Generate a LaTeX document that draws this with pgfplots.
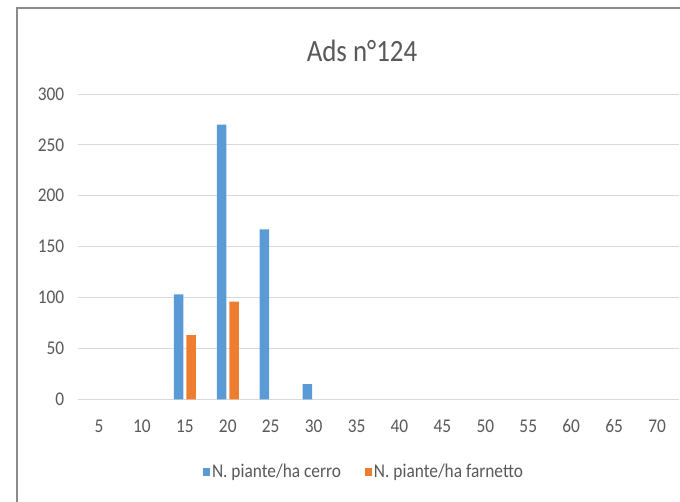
\documentclass[border=0pt]{standalone}
\usepackage{pgfplots}
\pgfplotsset{compat=1.18}
\usepackage{fontspec}
\setmainfont{Carlito}
\definecolor{cblue}{HTML}{5B9BD5}
\definecolor{corange}{HTML}{ED7D31}
\definecolor{tgray}{HTML}{595959}
\definecolor{ggray}{HTML}{D9D9D9}
\newcommand{\vs}[1]{\scalebox{1}[1.12]{#1}}
\begin{document}
\begin{tikzpicture}
\useasboundingbox (0bp,0bp) rectangle (680bp,502bp);
\fill[white] (0bp,0bp) rectangle (680bp,502bp);
\draw[color=black!45, line width=1.2bp] (17bp,0bp) -- (17bp,494bp) -- (680bp,494bp);
\node[text=tgray, font=\fontsize{27}{32}\selectfont] at (362bp,451bp) {\scalebox{1}[1.15]{Ads n°124}};
\begin{axis}[
  at={(77.5bp,102.7bp)}, anchor=south west,
  scale only axis, width=601bp, height=305.3bp,
  ybar=3bp, bar width=9.5bp,
  xmin=-0.5, xmax=13.5, ymin=0, ymax=300,
  ytick={0,50,...,300},
  yticklabel={\vs{\pgfmathprintnumber{\tick}}},
  xtick={0,...,13},
  xticklabels={\vs{5},\vs{10},\vs{15},\vs{20},\vs{25},\vs{30},\vs{35},\vs{40},\vs{45},\vs{50},\vs{55},\vs{60},\vs{65},\vs{70}},
  ymajorgrids, grid style={ggray, line width=0.9bp},
  axis line style={draw=none}, major tick length=0pt,
  tick label style={text=tgray, font=\fontsize{17.4}{20}\selectfont},
  /pgf/number format/assume math mode=true,
  xticklabel style={yshift=-17bp},
  yticklabel style={xshift=-9.7bp},
  legend style={at={(0.4767,-0.238)}, anchor=center, draw=none, fill=none,
    legend columns=2, font=\fontsize{17.4}{20}\selectfont, text=tgray,
    /tikz/every even column/.append style={column sep=22bp}},
  legend image code/.code={\fill[#1] (0bp,-4.2bp) rectangle (7bp,4.2bp);},
]
\addplot[fill=cblue, draw=none] coordinates {(2,103) (3,270) (4,167) (5,15)};
\addplot[fill=corange, draw=none] coordinates {(2,63) (3,96)};
\legend{\vs{N. piante/ha cerro}, \vs{N. piante/ha farnetto}}
\end{axis}
\end{tikzpicture}
\end{document}
